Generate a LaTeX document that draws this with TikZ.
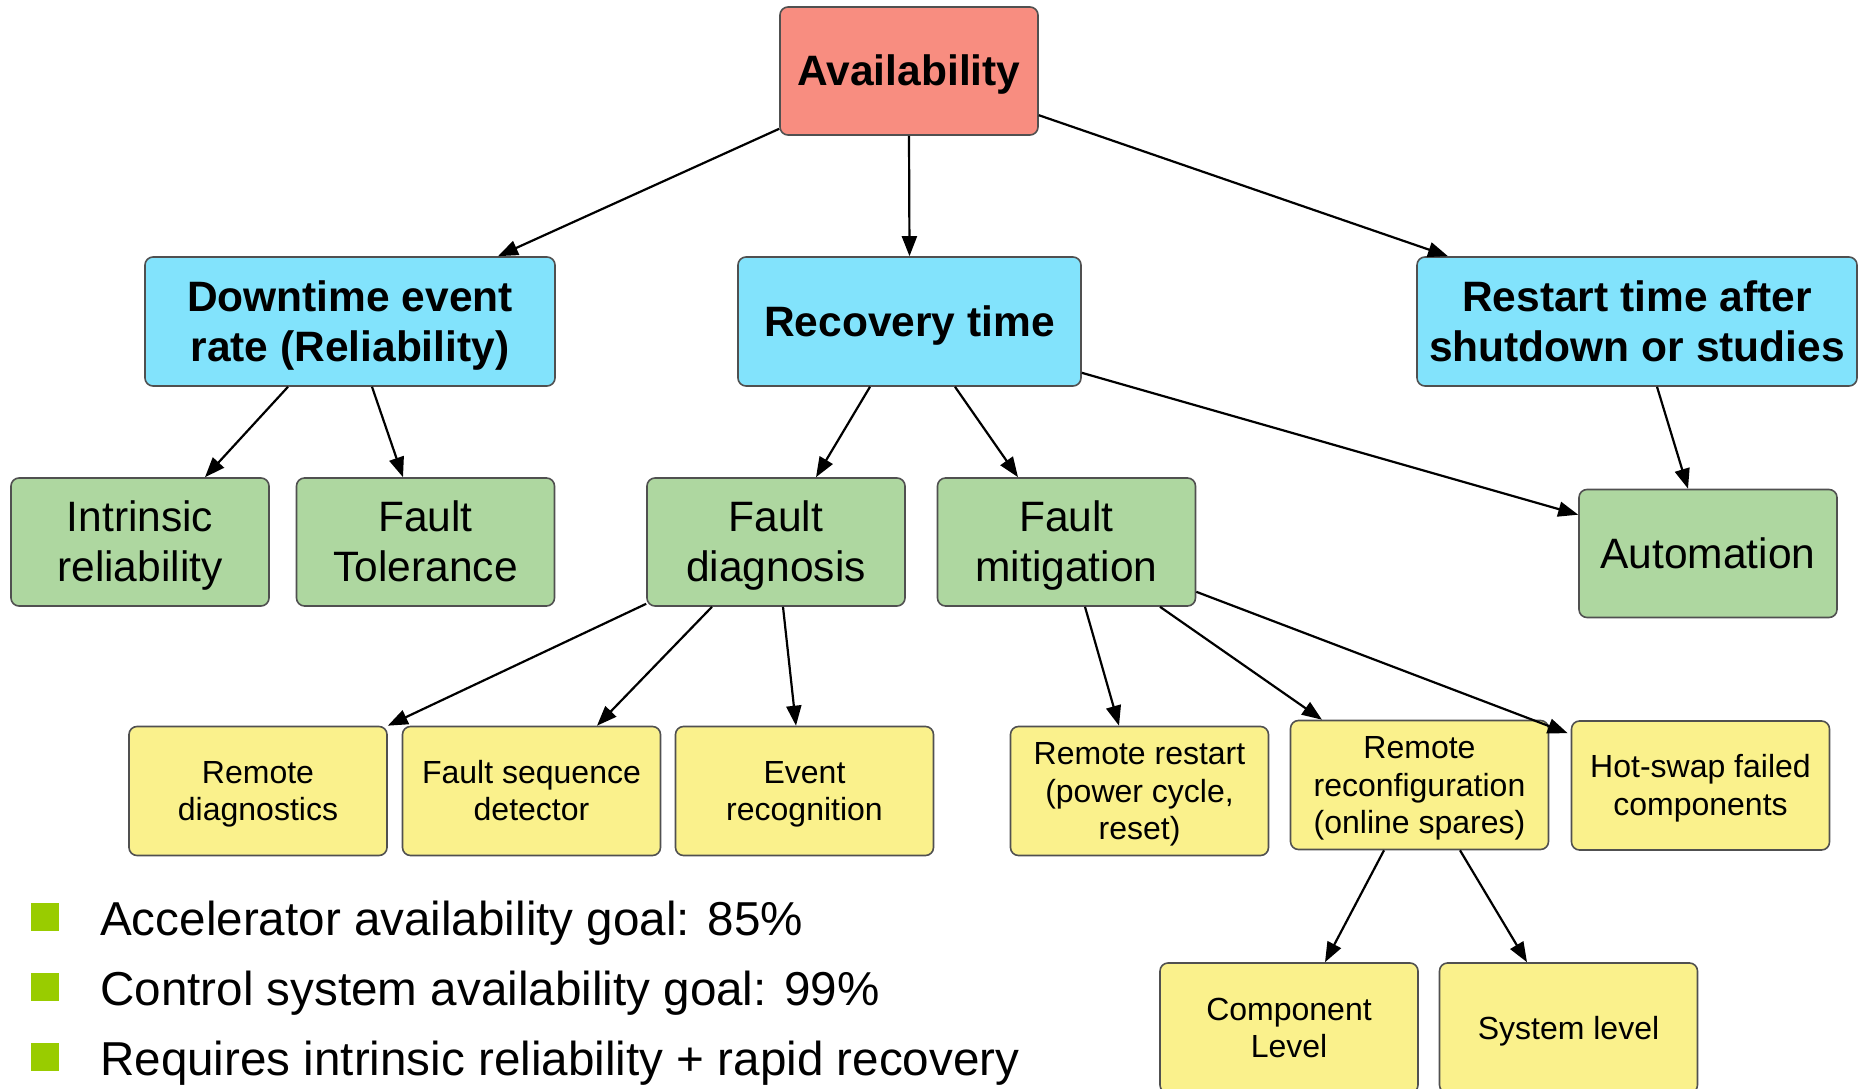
\documentclass[tikz,border=0pt]{standalone}
\usepackage{fontspec}
\setmainfont{Liberation Sans}
\usetikzlibrary{arrows.meta}

\definecolor{availred}{HTML}{F88D80}
\definecolor{levelblue}{HTML}{82E3FC}
\definecolor{levelgreen}{HTML}{AED7A0}
\definecolor{levelyellow}{HTML}{FAF18C}
\definecolor{boxline}{HTML}{505050}
\definecolor{bulletgreen}{HTML}{99CC00}

% invisible rules carrying the font's full ascent and descent
\newcommand{\tstrut}{\rule{0pt}{0.905em}}
\newcommand{\bstrut}{\rule[-0.212em]{0pt}{0.212em}}

\tikzset{
  box/.style={draw=boxline, line width=1.6pt, rounded corners=8pt, inner sep=0pt, align=center},
  rootbox/.style={box, fill=availred, minimum width=258pt, minimum height=128pt,
    font=\fontsize{42.5}{50}\selectfont\bfseries},
  bluebox/.style={box, fill=levelblue, minimum height=129pt,
    font=\fontsize{42.5}{50}\selectfont\bfseries},
  greenbox/.style={box, fill=levelgreen, minimum width=258pt, minimum height=128pt,
    font=\fontsize{42.5}{50}\selectfont},
  yellowbox/.style={box, fill=levelyellow, minimum width=258pt, minimum height=129pt,
    font=\fontsize{32}{37.5}\selectfont},
  link/.style={line width=2.2pt, -{Triangle[length=20pt,width=15pt]}},
  bulletsq/.style={fill=bulletgreen, minimum size=28pt, inner sep=0pt},
  bullettext/.style={anchor=base west, inner sep=0pt, font=\fontsize{47.6}{58}\selectfont},
}

\begin{document}
\begin{tikzpicture}[x=1pt, y=-1pt]
\clip (0,0) rectangle (1858,1089);

% top level
\node[rootbox] (av) at (909,71) {\tstrut Availability\bstrut};

% second level
\node[bluebox, minimum width=410pt] (dt) at (350,321.5) {\tstrut Downtime event\\rate (Reliability)\bstrut};
\node[bluebox, minimum width=343pt] (rt) at (909.5,321.5) {\tstrut Recovery time\bstrut};
\node[bluebox, minimum width=440pt] (rs) at (1637,321.5) {\tstrut Restart time after\\shutdown or studies\bstrut};

% third level
\node[greenbox] (ir) at (140,542) {\tstrut Intrinsic\\reliability\bstrut};
\node[greenbox] (ft) at (425.5,542) {\tstrut Fault\\Tolerance\bstrut};
\node[greenbox] (fd) at (776,542) {\tstrut Fault\\diagnosis\bstrut};
\node[greenbox] (fm) at (1066.5,542) {\tstrut Fault\\mitigation\bstrut};
\node[greenbox] (au) at (1708,553.5) {\tstrut Automation\bstrut};

% fourth level
\node[yellowbox] (rd) at (258,791) {\tstrut Remote\\diagnostics\bstrut};
\node[yellowbox] (fs) at (531.5,791) {\tstrut Fault sequence\\detector\bstrut};
\node[yellowbox] (er) at (804.5,791) {\tstrut Event\\recognition\bstrut};
\node[yellowbox] (rr) at (1139.5,791) {\tstrut Remote restart\\(power cycle,\\reset)\bstrut};
\node[yellowbox] (rc) at (1419.5,785) {\tstrut Remote\\reconfiguration\\(online spares)\bstrut};
\node[yellowbox] (hs) at (1700.5,785.5) {\tstrut Hot-swap failed\\components\bstrut};

% fifth level
\node[yellowbox, minimum height=130pt] (cl) at (1289,1028) {\tstrut Component\\Level\bstrut};
\node[yellowbox, minimum height=130pt] (sl) at (1568.5,1028) {\tstrut System level\bstrut};

% connectors
\draw[link] ([yshift=7pt]av.south west) -- ([xshift=148pt]dt.north);
\draw[link] (av.south) -- (rt.north);
\draw[link] ([yshift=-109pt]av.north east) -- ([xshift=-189pt]rs.north);

\draw[link] ([xshift=-62pt]dt.south) -- ([xshift=65pt]ir.north);
\draw[link] ([xshift=22pt]dt.south) -- ([xshift=-22.5pt]ft.north);

\draw[link] ([xshift=-39.5pt]rt.south) -- ([xshift=40pt]fd.north);
\draw[link] ([xshift=45.5pt]rt.south) -- ([xshift=-48.5pt]fm.north);
\draw[link] ([yshift=14pt]rt.south east) -- ([yshift=-26pt]au.north west);

\draw[link] ([xshift=20pt]rs.south) -- ([xshift=-20pt]au.north);

\draw[link] ([yshift=3pt]fd.south west) -- (rd.north east);
\draw[link] ([xshift=-64pt]fd.south) -- ([xshift=65.5pt]fs.north);
\draw[link] ([xshift=7pt]fd.south) -- ([xshift=-8.5pt]er.north);

\draw[link] ([xshift=18.5pt]fm.south) -- ([xshift=-20.5pt]rr.north);
\draw[link] ([xshift=93.5pt]fm.south) -- ([xshift=-97.5pt]rc.north);
\draw[link] ([yshift=15pt]fm.south east) -- ([xshift=-3pt,yshift=-13pt]hs.north west);

\draw[link] ([xshift=-35.5pt]rc.south) -- ([xshift=36pt]cl.north);
\draw[link] ([xshift=40.5pt]rc.south) -- ([xshift=-41.5pt]sl.north);

% bullet list
\node[bulletsq] (s1) at (45,917) {};
\node[bulletsq] (s2) at (45,987) {};
\node[bulletsq] (s3) at (45,1057) {};
\node[bullettext] (b1) at (100,935) {Accelerator availability goal: 85\%};
\node[bullettext] (b2) at (100,1005) {Control system availability goal: 99\%};
\node[bullettext] (b3) at (100,1075) {Requires intrinsic reliability + rapid recovery};
\end{tikzpicture}
\end{document}
